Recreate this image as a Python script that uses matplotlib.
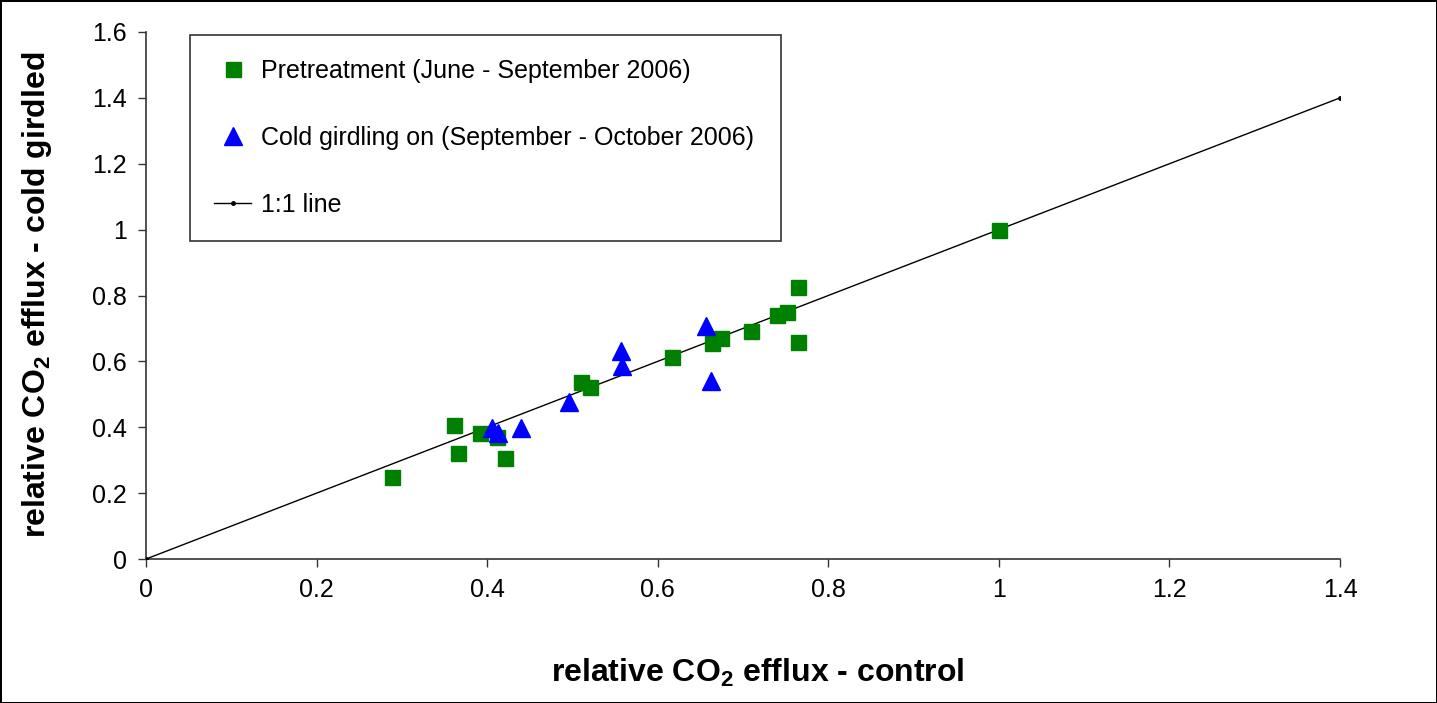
import matplotlib
matplotlib.use("Agg")
import matplotlib.pyplot as plt
from matplotlib.ticker import FuncFormatter

# pretreatment (June - September 2006)
pre_x = [0.289, 0.361, 0.366, 0.392, 0.411, 0.421, 0.510, 0.521, 0.617, 0.664,
         0.674, 0.709, 0.740, 0.752, 0.765, 0.765, 1.000]
pre_y = [0.248, 0.406, 0.321, 0.382, 0.369, 0.306, 0.536, 0.521, 0.612, 0.655,
         0.670, 0.691, 0.740, 0.749, 0.825, 0.658, 0.999]

# cold girdling on (September - October 2006)
cg_x = [0.406, 0.413, 0.440, 0.496, 0.557, 0.558, 0.657, 0.662]
cg_y = [0.397, 0.384, 0.397, 0.478, 0.631, 0.587, 0.708, 0.541]

# 1:1 line
line_x = [0, 1.4]
line_y = [0, 1.4]

x_ticks = [0, 0.2, 0.4, 0.6, 0.8, 1, 1.2, 1.4]
y_ticks = [0, 0.2, 0.4, 0.6, 0.8, 1, 1.2, 1.4, 1.6]

plt.rcParams['font.family'] = ['Liberation Sans', 'DejaVu Sans']
plt.rcParams['mathtext.fontset'] = 'custom'
plt.rcParams['mathtext.rm'] = 'Liberation Sans:bold'
plt.rcParams['mathtext.default'] = 'rm'

fig = plt.figure(figsize=(14.37, 7.03), dpi=100)
fig.patch.set_edgecolor('black')
fig.patch.set_linewidth(2)
ax = fig.add_axes([0.1016, 0.2048, 0.8309, 0.7497])

ax.plot(pre_x, pre_y, linestyle='none', marker='s', markersize=10.8,
        color='#008000', label='Pretreatment (June - September 2006)', zorder=3)
ax.plot(cg_x, cg_y, linestyle='none', marker='^', markersize=12.5,
        color='#0000FF', label='Cold girdling on (September - October 2006)', zorder=4)
ax.plot(line_x, line_y, color='black', linewidth=1, marker='o', markersize=2.5,
        label='1:1 line', zorder=2)

ax.set_xlim(0, 1.4)
ax.set_ylim(0, 1.6)
ax.set_xticks(x_ticks)
ax.set_yticks(y_ticks)
fmt = FuncFormatter(lambda v, p: '{:g}'.format(round(v, 2)))
ax.xaxis.set_major_formatter(fmt)
ax.yaxis.set_major_formatter(fmt)
ax.tick_params(labelsize=18, length=6, width=1, pad=8, color='#333333')

ax.spines['top'].set_visible(False)
ax.spines['right'].set_visible(False)
for s in ['left', 'bottom']:
    ax.spines[s].set_color('#333333')
    ax.spines[s].set_linewidth(1.2)
    ax.spines[s].set_zorder(1)

ax.set_xlabel(r'relative CO$_2$ efflux - control', fontsize=23, fontweight='bold')
ax.set_ylabel(r'relative CO$_2$ efflux - cold girdled', fontsize=23, fontweight='bold')
ax.xaxis.set_label_coords(0.512, -0.216)
ax.xaxis.label.set_va('center')
ax.yaxis.set_label_coords(-0.0913, 0.501)
ax.yaxis.label.set_va('center')

leg = ax.legend(loc='upper left', bbox_to_anchor=(0.0369, 0.994, 0.495, 0.0),
                mode='expand', borderaxespad=0, fontsize=18, frameon=True,
                fancybox=False, edgecolor='#333333', framealpha=1,
                labelspacing=1.72, borderpad=0.95, handlelength=1.5,
                handletextpad=0.4, numpoints=1)
leg.get_frame().set_linewidth(1.2)

fig.savefig('out.png', dpi=100, edgecolor=fig.get_edgecolor())
